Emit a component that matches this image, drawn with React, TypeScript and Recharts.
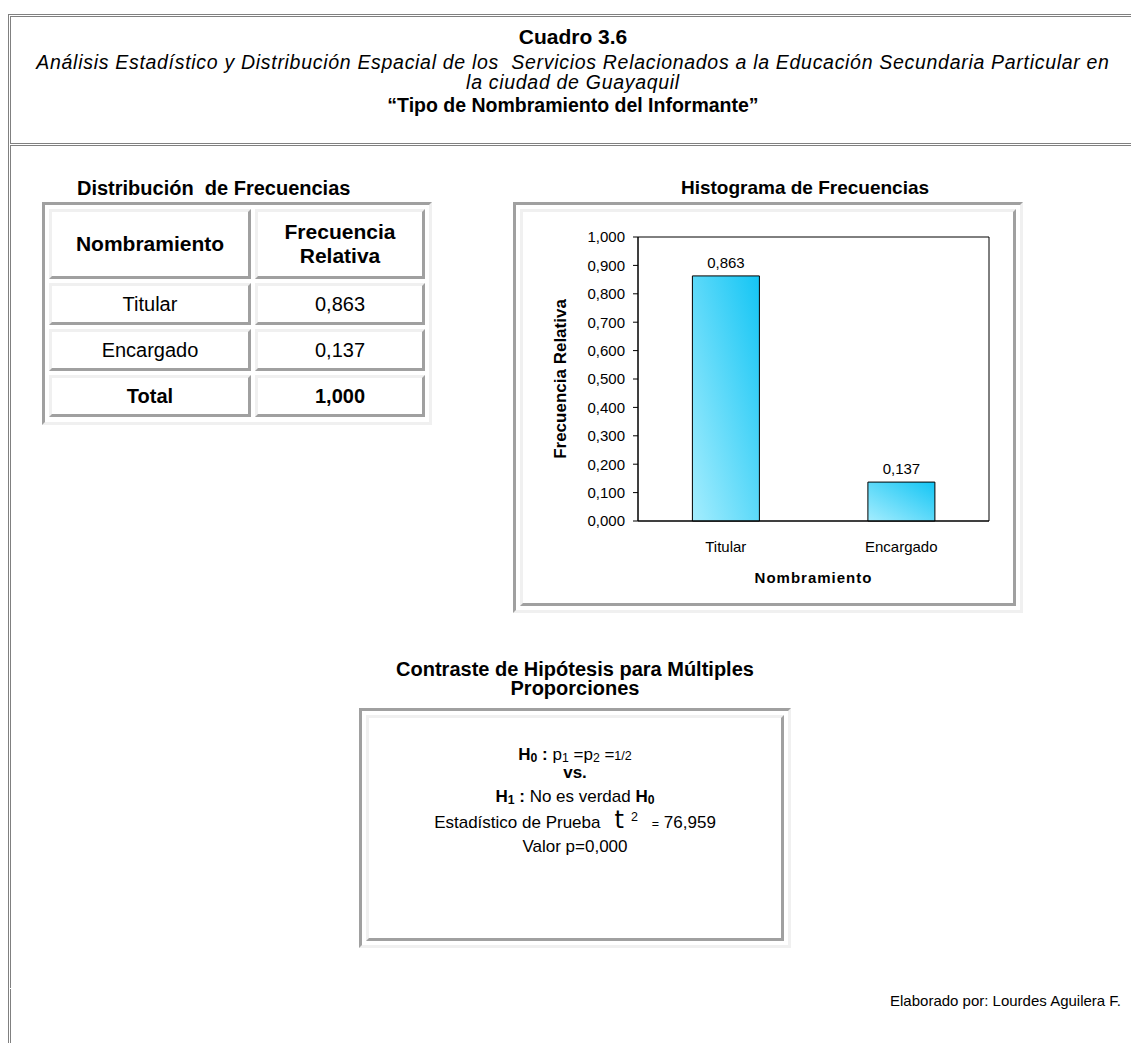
import React from "react";
import { BarChart, Bar, XAxis, YAxis, LabelList, ReferenceArea } from "recharts";

const categories = ["Titular", "Encargado"];
const frequencies = [0.863, 0.137];
const yTicks = [0, 0.1, 0.2, 0.3, 0.4, 0.5, 0.6, 0.7, 0.8, 0.9, 1.0];
const tableHeaders = ["Nombramiento", "Frecuencia Relativa"];
const totalLabel = "Total";

const FONT = 'Arial, "Liberation Sans", sans-serif';
const DARK = "#a0a0a0";
const LIGHT = "#f0f0f0";
const LINE = "#808080";

const fmt = (v: number) => v.toFixed(3).replace(".", ",");

const outset: React.CSSProperties = {
  borderStyle: "solid",
  borderWidth: 3,
  borderColor: `${DARK} ${LIGHT} ${LIGHT} ${DARK}`,
  boxSizing: "border-box",
};
const inset: React.CSSProperties = {
  borderStyle: "solid",
  borderWidth: 3,
  borderColor: `${LIGHT} ${DARK} ${DARK} ${LIGHT}`,
  boxSizing: "border-box",
  display: "flex",
  alignItems: "center",
  justifyContent: "center",
  textAlign: "center",
};

function FrequencyTable() {
  const total = frequencies.reduce((a, b) => a + b, 0);
  const cell = (content: React.ReactNode, bold = false, size = 20) => (
    <div style={{ ...inset, fontWeight: bold ? "bold" : "normal", fontSize: size, lineHeight: "24px" }}>
      {content}
    </div>
  );
  return (
    <div
      style={{
        ...outset,
        position: "absolute",
        left: 42,
        top: 202,
        width: 390,
        height: 223,
        padding: 4,
        display: "grid",
        gridTemplateColumns: "202px 170px",
        gridTemplateRows: "70px 42px 42px 42px",
        gap: 4,
        color: "#000",
      }}
    >
      {cell(tableHeaders[0], true, 21)}
      {cell(
        <span>
          Frecuencia
          <br />
          Relativa
        </span>,
        true,
        21
      )}
      {categories.map((c, i) => (
        <React.Fragment key={c}>
          {cell(c)}
          {cell(fmt(frequencies[i]))}
        </React.Fragment>
      ))}
      {cell(totalLabel, true)}
      {cell(fmt(total), true)}
    </div>
  );
}

function Histogram() {
  const data = categories.map((name, i) => ({ name, value: frequencies[i] }));
  return (
    <BarChart
      width={490}
      height={391}
      data={data}
      margin={{ top: 25, right: 24, bottom: 16, left: 0 }}
      barCategoryGap="31%"
      style={{ fontFamily: FONT }}
    >
      <defs>
        <linearGradient id="barFill" x1="0" y1="1" x2="1" y2="0">
          <stop offset="0%" stopColor="#a4edfe" />
          <stop offset="100%" stopColor="#14c5f4" />
        </linearGradient>
      </defs>
      <ReferenceArea y1={0} y2={1} fill="none" stroke="#000" strokeWidth={1} ifOverflow="visible" />
      <XAxis
        dataKey="name"
        height={66}
        interval={0}
        axisLine={{ stroke: "#000" }}
        tickLine={false}
        tickSize={0}
        tickMargin={20}
        tick={{ fill: "#000", fontSize: 15, fontFamily: FONT }}
        label={{
          value: "Nombramiento",
          position: "insideBottom",
          offset: 4,
          fill: "#000",
          fontSize: 15,
          fontWeight: "bold",
          fontFamily: FONT,
          letterSpacing: 1,
        }}
      />
      <YAxis
        type="number"
        domain={[0, 1]}
        ticks={yTicks}
        width={115}
        tickSize={5}
        tickMargin={8}
        axisLine={{ stroke: "#000" }}
        tickLine={{ stroke: "#000" }}
        tickFormatter={fmt}
        tick={{ fill: "#000", fontSize: 15, fontFamily: FONT }}
        label={{
          value: "Frecuencia Relativa",
          angle: -90,
          position: "insideLeft",
          offset: 37,
          fill: "#000",
          fontSize: 17,
          fontWeight: "bold",
          fontFamily: FONT,
          style: { textAnchor: "middle" },
        }}
      />
      <Bar dataKey="value" fill="url(#barFill)" stroke="#000" strokeWidth={1} isAnimationActive={false}>
        <LabelList
          dataKey="value"
          position="top"
          offset={8}
          formatter={(v: number) => fmt(v)}
          fill="#000"
          fontSize={15}
          fontFamily={FONT}
        />
      </Bar>
    </BarChart>
  );
}

const sub: React.CSSProperties = { fontSize: "0.72em", verticalAlign: "-0.18em", lineHeight: 0 };
const line = (top: number): React.CSSProperties => ({
  position: "absolute",
  left: 0,
  right: 0,
  top,
  textAlign: "center",
  whiteSpace: "nowrap",
  lineHeight: "18px",
});

export default function App() {
  return (
    <div
      style={{
        position: "absolute",
        left: 0,
        top: 0,
        width: 1131,
        height: 1043,
        overflow: "hidden",
        background: "#fff",
        fontFamily: FONT,
        color: "#000",
      }}
    >
      {/* page frame: double grey rules */}
      <div style={{ position: "absolute", left: 8, top: 14, width: 1200, height: 1100, borderLeft: `1px solid ${LINE}`, borderTop: `1px solid ${LINE}` }} />
      <div style={{ position: "absolute", left: 10, top: 16, width: 1200, height: 128, boxSizing: "border-box", borderLeft: `1px solid ${LINE}`, borderTop: `1px solid ${LINE}`, borderBottom: `1px solid ${LINE}` }} />
      <div style={{ position: "absolute", left: 10, top: 145, width: 1200, height: 843, boxSizing: "border-box", borderLeft: `1px solid ${LINE}`, borderTop: `1px solid ${LINE}` }} />
      <div style={{ position: "absolute", left: 10, top: 989, width: 1200, height: 100, borderLeft: `1px solid ${LINE}` }} />

      {/* header */}
      <div style={{ position: "absolute", left: 10, width: 1126, top: 24, textAlign: "center", fontSize: 21, fontWeight: "bold", lineHeight: "26px" }}>
        Cuadro 3.6
      </div>
      <div style={{ position: "absolute", left: 0, width: 1146, top: 52, textAlign: "center", fontSize: 19.5, fontStyle: "italic", lineHeight: "20px", letterSpacing: 0.7, whiteSpace: "nowrap" }}>
        Análisis Estadístico y Distribución Espacial de los&nbsp; Servicios Relacionados a la Educación Secundaria Particular en
        <br />
        la ciudad de Guayaquil
      </div>
      <div style={{ position: "absolute", left: 10, width: 1126, top: 94, textAlign: "center", fontSize: 19.5, fontWeight: "bold", lineHeight: "22px" }}>
        “Tipo de Nombramiento del Informante”
      </div>

      {/* frequency table */}
      <div style={{ position: "absolute", left: 77, top: 177, fontSize: 20, fontWeight: "bold", lineHeight: "22px", whiteSpace: "nowrap" }}>
        Distribución&nbsp; de Frecuencias
      </div>
      <FrequencyTable />

      {/* histogram panel */}
      <div style={{ position: "absolute", left: 680, top: 177, width: 250, textAlign: "center", fontSize: 19, fontWeight: "bold", lineHeight: "22px", whiteSpace: "nowrap" }}>
        Histograma de Frecuencias
      </div>
      <div style={{ ...outset, position: "absolute", left: 513, top: 202, width: 510, height: 411, padding: 4 }}>
        <div style={{ ...inset, width: 496, height: 397, display: "block" }}>
          <Histogram />
        </div>
      </div>

      {/* hypothesis test */}
      <div style={{ position: "absolute", left: 359, width: 432, top: 660, textAlign: "center", fontSize: 20, fontWeight: "bold", lineHeight: "19px" }}>
        Contraste de Hipótesis para Múltiples Proporciones
      </div>
      <div style={{ ...outset, position: "absolute", left: 359, top: 708, width: 432, height: 240, padding: 4 }}>
        <div style={{ ...inset, width: 418, height: 226, display: "block", position: "relative", fontSize: 17 }}>
          {/* cell content top = 718 */}
          <div style={line(28)}>
            <b>
              H<span style={sub}>0</span> :
            </b>{" "}
            p<span style={sub}>1</span> =p<span style={sub}>2</span> =<span style={{ fontSize: 12.5 }}>1/2</span>
          </div>
          <div style={{ ...line(46), fontWeight: "bold" }}>vs.</div>
          <div style={line(70)}>
            <b>
              H<span style={sub}>1</span> :
            </b>{" "}
            No es verdad{" "}
            <b>
              H<span style={sub}>0</span>
            </b>
          </div>
          <div style={line(96)}>
            Estadístico de Prueba
            <span style={{ fontFamily: '"DejaVu Sans", sans-serif', fontSize: 24, lineHeight: 0, marginLeft: 14 }}>t</span>
            <span style={{ fontSize: 12.5, verticalAlign: "0.6em", lineHeight: 0, marginLeft: 7 }}>2</span>
            <span style={{ fontSize: 12.5, marginLeft: 14 }}>=</span> 76,959
          </div>
          <div style={line(120)}>Valor p=0,000</div>
        </div>
      </div>

      {/* footer */}
      <div style={{ position: "absolute", right: 10, top: 991, fontSize: 15, lineHeight: "20px", whiteSpace: "nowrap" }}>
        Elaborado por: Lourdes Aguilera F.
      </div>
    </div>
  );
}
